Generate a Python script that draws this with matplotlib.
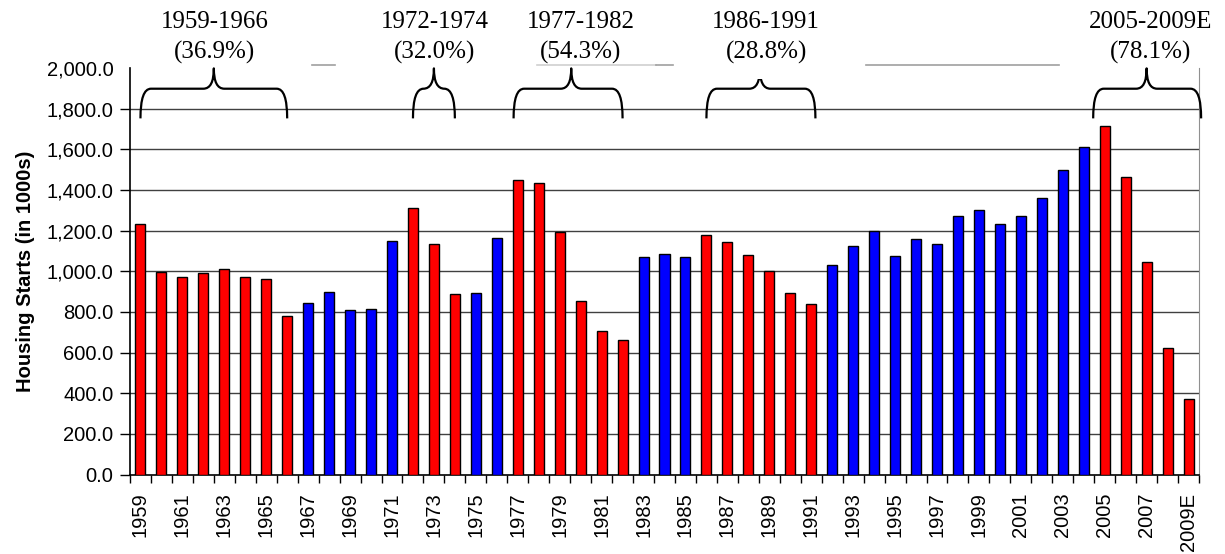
import matplotlib
matplotlib.use("Agg")
import matplotlib.pyplot as plt
from matplotlib.path import Path
from matplotlib.patches import PathPatch, Rectangle
import numpy as np

# ---------------- data ----------------
years = [str(y) for y in range(1959, 2009)] + ["2009E"]
starts = [1234, 995, 974, 991, 1012, 970, 964, 779, 844, 899,
          811, 813, 1151, 1309, 1132, 888, 892, 1162, 1451, 1433,
          1194, 852, 705, 663, 1068, 1084, 1072, 1179, 1146, 1081,
          1003, 895, 840, 1030, 1126, 1198, 1076, 1161, 1134, 1271,
          1302, 1231, 1273, 1359, 1499, 1611, 1716, 1465, 1046, 622,
          370]
decline_periods = [("1959", "1966"), ("1972", "1974"), ("1977", "1982"),
                   ("1986", "1991"), ("2005", "2009E")]
period_labels = ["1959-1966\n(36.9%)", "1972-1974\n(32.0%)", "1977-1982\n(54.3%)",
                 "1986-1991\n(28.8%)", "2005-2009E\n(78.1%)"]
yticks = [0, 200, 400, 600, 800, 1000, 1200, 1400, 1600, 1800, 2000]
ylabel = "Housing Starts (in 1000s)"

# ---------------- figure ----------------
fig = plt.figure(figsize=(12.25, 5.54), dpi=100)
ax = fig.add_axes([0.1061, 0.1435, 0.9788 - 0.1061, 0.8773 - 0.1435])

x = np.arange(len(years))
idx = {y: i for i, y in enumerate(years)}
colors = []
for i in range(len(years)):
    red = any(idx[a] <= i <= idx[b] for a, b in decline_periods)
    colors.append("#FF0000" if red else "#0000FF")

ax.bar(x, starts, width=0.48, color=colors, edgecolor="black", linewidth=1.0, zorder=3)

ax.set_xlim(-0.5, len(years) - 0.5)
ax.set_ylim(0, 2000)
ax.set_yticks(yticks)
ax.set_yticklabels([f"{v:,.1f}" for v in yticks], fontfamily="Liberation Sans", fontsize=14.5)
for v in yticks[1:-1]:
    ax.axhline(v, color="#404040", lw=1.0, zorder=1)

# x ticks: labels on every other year, tick marks between categories
lab_pos = [i for i in range(len(years)) if i % 2 == 0]
ax.set_xticks(lab_pos)
ax.set_xticklabels([years[i] for i in lab_pos], rotation=90,
                   fontfamily="Liberation Sans", fontsize=14.5)
ax.tick_params(axis="x", which="major", length=0, pad=13)
ax.set_xticks(np.arange(-0.5, len(years)), minor=True)
ax.tick_params(axis="x", which="minor", length=6, width=1, direction="out", color="black")
ax.tick_params(axis="y", length=7, width=1, direction="out", pad=5)
ax.yaxis.get_major_ticks()[-1].tick1line.set_visible(False)

ax.spines["top"].set_visible(False)
ax.spines["right"].set_color("#909090")
ax.spines["left"].set_linewidth(1.2)
ax.spines["bottom"].set_linewidth(1.2)

ax.set_ylabel(ylabel, fontfamily="Liberation Sans", fontweight="bold", fontsize=14.5, labelpad=8)

# partially visible top border segments (category units)
for a, b, c in [(8.2, 9.3, "#a0a0a0"), (18.9, 24.6, "#d0d0d0"), (24.6, 25.4, "#a0a0a0"),
                (34.6, 43.8, "#a0a0a0")]:
    ax.plot([a, b], [2016, 2016], color=c, lw=1.2, clip_on=False, zorder=2)

# braces
def brace(x0, x1, xm, yb=1752, ym=1898, yt=1998, d=0.5):
    verts = [(x0, yb), (x0, ym), (x0 + d, ym),
             (xm - d, ym),
             (xm, ym), (xm, yt),
             (xm, ym), (xm + d, ym),
             (x1 - d, ym),
             (x1, ym), (x1, yb)]
    codes = [Path.MOVETO, Path.CURVE3, Path.CURVE3,
             Path.LINETO,
             Path.CURVE3, Path.CURVE3,
             Path.CURVE3, Path.CURVE3,
             Path.LINETO,
             Path.CURVE3, Path.CURVE3]
    p = PathPatch(Path(verts, codes), fill=False, lw=1.6, edgecolor="black",
                  clip_on=False, zorder=5, capstyle="butt", joinstyle="round")
    ax.add_patch(p)

brace_specs = [(0.0, 7.0, 3.5), (13.0, 15.0, 14.0), (17.8, 23.0, 20.55),
               (27.0, 32.2, 29.55), (45.45, 50.6, 48.0)]
for (x0, x1, xm) in brace_specs:
    brace(x0, x1, xm)
# tip of 1986-1991 brace is hidden by its label box
ax.add_patch(Rectangle((29.2, 1945), 0.7, 80, facecolor="white", edgecolor="none",
                       clip_on=False, zorder=6))

label_x = [3.55, 14.05, 21.0, 29.85, 48.2]
for lx, txt in zip(label_x, period_labels):
    ax.text(lx, 2022, txt, ha="center", va="bottom", fontfamily="Liberation Serif",
            fontsize=18, linespacing=1.4, clip_on=False, zorder=7)

fig.savefig("out.png", dpi=100)
